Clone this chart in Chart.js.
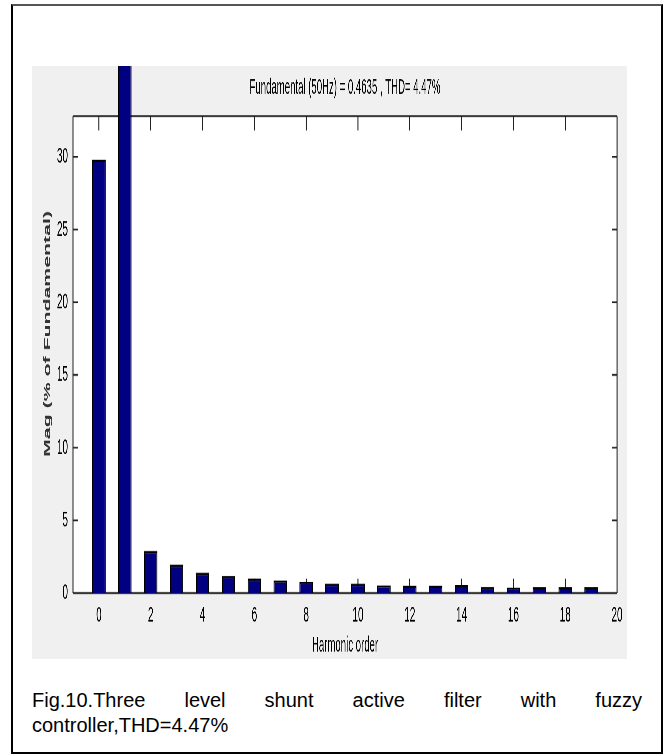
<!DOCTYPE html>
<html lang="en">
<head>
<meta charset="UTF-8">
<title>Harmonic spectrum - fuzzy controller</title>
<script src="https://cdn.jsdelivr.net/npm/chart.js"></script>
<style>
  body { margin: 0; background: #fff; font-family: "Liberation Sans", Arial, sans-serif; }
  .page { position: relative; width: 666px; height: 755px; }
  .frame { position: absolute; left: 11px; top: 4px; width: 648px; height: 746px; border: 2px solid #000; border-top-color: #555; }
  .figure { position: absolute; left: 32px; top: 66px; width: 595px; height: 593px; background: #f0f0f0; overflow: hidden; }
  /* the figure in the paper is stretched vertically, so the chart is drawn short and scaled up */
  #spectrum { position: absolute; left: 0; top: 0; transform-origin: 0 0; transform: scaleY(2.196); }
  .caption { position: absolute; left: 32px; top: 688px; width: 610px; font-size: 20px; line-height: 25px; text-align: justify; color: #000; }
</style>
</head>
<body>
<div class="page">
  <div class="frame"></div>
  <div class="figure">
    <canvas id="spectrum" width="595" height="270"></canvas>
  </div>
  <div class="caption">Fig.10.Three level shunt active filter with fuzzy controller,THD=4.47%</div>
</div>
<script>
const harmonicOrder = [0, 1, 2, 3, 4, 5, 6, 7, 8, 9, 10, 11, 12, 13, 14, 15, 16, 17, 18, 19];
const magnitude = [29.8, 100, 2.9, 1.95, 1.4, 1.17, 1.0, 0.87, 0.77, 0.64, 0.64, 0.53, 0.5, 0.5, 0.55, 0.42, 0.38, 0.4, 0.4, 0.4];
const xTickValues = [0, 2, 4, 6, 8, 10, 12, 14, 16, 18, 20];
const yTickValues = [0, 5, 10, 15, 20, 25, 30];
const titleText = 'Fundamental (50Hz) = 0.4635 , THD= 4.47%';
// leading spaces push the rotated label up a little, as in the paper
const yLabel = '\u00a0\u00a0\u00a0\u00a0\u00a0\u00a0\u00a0Mag (% of Fundamental)';

// white axes box, outline and inward tick marks (matlab style)
const axesFrame = {
  id: 'axesFrame',
  beforeDatasetsDraw(chart) {
    const { ctx, chartArea: a, scales: { x, y } } = chart;
    ctx.save();
    ctx.fillStyle = '#fff';
    ctx.fillRect(a.left, a.top, a.width, a.height);
    ctx.strokeStyle = '#222';

    ctx.lineWidth = 1;
    ctx.beginPath();
    ctx.moveTo(a.left, a.top); ctx.lineTo(a.left, a.bottom);
    ctx.moveTo(a.right, a.top); ctx.lineTo(a.right, a.bottom);
    xTickValues.forEach(v => {
      const px = x.getPixelForValue(v);
      ctx.moveTo(px, a.bottom); ctx.lineTo(px, a.bottom - 6.5);
      ctx.moveTo(px, a.top); ctx.lineTo(px, a.top + 6.5);
    });
    ctx.stroke();

    ctx.lineWidth = 0.8;
    ctx.beginPath();
    ctx.moveTo(a.left, a.top); ctx.lineTo(a.right, a.top);
    ctx.moveTo(a.left, a.bottom); ctx.lineTo(a.right, a.bottom);
    yTickValues.forEach(v => {
      const py = y.getPixelForValue(v);
      ctx.moveTo(a.left, py); ctx.lineTo(a.left + 5, py);
      ctx.moveTo(a.right, py); ctx.lineTo(a.right - 5, py);
    });
    ctx.stroke();
    ctx.restore();
  }
};

new Chart(document.getElementById('spectrum'), {
  type: 'bar',
  data: {
    datasets: [{
      data: harmonicOrder.map((h, i) => ({ x: h, y: magnitude[i] })),
      backgroundColor: '#000080',
      borderColor: '#000',
      borderWidth: 1,
      barPercentage: 0.52,
      categoryPercentage: 1,
      clip: false
    }]
  },
  options: {
    responsive: false,
    devicePixelRatio: 3,
    animation: false,
    layout: { padding: { left: 0, right: 8, top: 0, bottom: 0 } },
    plugins: {
      legend: { display: false },
      tooltip: { enabled: false },
      title: {
        display: true,
        text: titleText,
        fullSize: false,
        color: '#000',
        font: { family: 'Liberation Sans', size: 9.6, weight: 'normal', lineHeight: 1.2 },
        padding: { top: 4.1, bottom: 7.2 }
      }
    },
    scales: {
      x: {
        type: 'linear',
        min: -1,
        max: 20,
        offset: false,
        grid: { display: false, drawTicks: false },
        border: { display: false },
        afterBuildTicks: s => { s.ticks = xTickValues.map(v => ({ value: v })); },
        afterFit: s => { s.height = 30; },
        ticks: { padding: 4.4, color: '#000', autoSkip: false, maxRotation: 0, font: { family: 'Liberation Sans', size: 10 } },
        title: {
          display: true,
          text: 'Harmonic order',
          color: '#000',
          font: { family: 'Liberation Sans', size: 9.6, lineHeight: 1.2 },
          padding: { top: 0, bottom: 0.2 }
        }
      },
      y: {
        min: 0,
        max: 32.8,
        grid: { display: false, drawTicks: false },
        border: { display: false },
        afterBuildTicks: s => { s.ticks = yTickValues.map(v => ({ value: v })); },
        afterFit: s => { s.width = 41; },
        ticks: { padding: 5, color: '#000', font: { family: 'Liberation Sans', size: 10 } },
        title: {
          display: true,
          text: yLabel,
          color: '#333',
          font: { family: 'Liberation Sans', size: 9.7, weight: 'bold', lineHeight: 1.2 },
          padding: { top: 10, bottom: 0 }
        }
      }
    }
  },
  plugins: [axesFrame]
});
</script>
</body>
</html>
